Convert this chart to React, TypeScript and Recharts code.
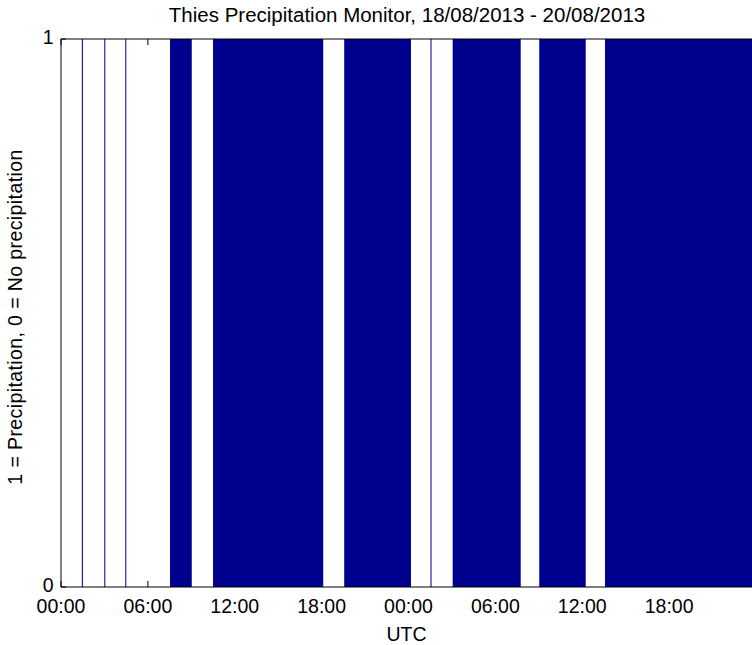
import { Area, AreaChart, Label, ReferenceLine, XAxis, YAxis } from "recharts";

// hours since 18/08/2013 00:00 UTC
const RAIN_START = [1.44, 2.99, 4.44, 7.53, 10.5, 19.56, 25.52, 27.05, 33.03, 37.57];
const RAIN_END = [1.51, 3.06, 4.51, 9.03, 18.11, 24.17, 25.59, 31.75, 36.24, 48];

const HOUR_TICKS = [0, 6, 12, 18, 24, 30, 36, 42];
const TICK_LABELS = ["00:00", "06:00", "12:00", "18:00", "00:00", "06:00", "12:00", "18:00"];

const FONT = "'Liberation Sans', Arial, sans-serif";
const NAVY = "#00008F";
const PLOT_H = 548;
const TOP_TICK = 6 / PLOT_H; // inward tick length on the top edge, in y units

const data: { t: number; rain: number }[] = [{ t: 0, rain: 0 }];
RAIN_START.forEach((s, i) => {
  data.push({ t: s, rain: 1 });
  data.push({ t: RAIN_END[i], rain: 0 });
});

const tickStyle = { fontSize: 19.5, fill: "#000", fontFamily: FONT };

export default function App() {
  return (
    <div style={{ position: "absolute", left: 0, top: 0, width: 752, height: 645, overflow: "hidden", background: "#fff" }}>
      <div
        style={{
          position: "absolute",
          left: 0,
          top: 5.3,
          width: 814,
          textAlign: "center",
          fontFamily: FONT,
          fontSize: 20.5,
          lineHeight: "20.5px",
          color: "#000",
          whiteSpace: "nowrap",
        }}
      >
        Thies Precipitation Monitor, 18/08/2013 - 20/08/2013
      </div>
      <AreaChart width={770} height={645} data={data} margin={{ top: 39, right: 14, bottom: 0, left: 0 }}>
        <XAxis
          dataKey="t"
          type="number"
          domain={[0, 48]}
          ticks={HOUR_TICKS}
          tickFormatter={(v) => TICK_LABELS[HOUR_TICKS.indexOf(v)]}
          height={58}
          axisLine={false}
          tickSize={-6}
          tickMargin={18.5}
          tickLine={{ stroke: "#000" }}
          tick={tickStyle}
          interval={0}
        >
          <Label
            content={({ viewBox }: any) => (
              <text
                x={viewBox.x + viewBox.width / 2 - 2}
                y={viewBox.y + 54}
                textAnchor="middle"
                style={{ fontSize: 19.5, fontFamily: FONT, fill: "#000" }}
              >
                UTC
              </text>
            )}
          />
        </XAxis>
        <YAxis
          type="number"
          domain={[0, 1]}
          ticks={[0, 1]}
          width={61}
          axisLine={{ stroke: "#000" }}
          tickSize={-5}
          tickMargin={12.5}
          tickLine={{ stroke: "#000" }}
          tick={{ ...tickStyle, dy: -1.5 }}
        >
          <Label
            content={({ viewBox }: any) => {
              const cx = viewBox.x + 22;
              const cy = viewBox.y + viewBox.height / 2 + 4;
              return (
                <text
                  x={cx}
                  y={cy}
                  transform={`rotate(-90 ${cx} ${cy})`}
                  textAnchor="middle"
                  style={{ fontSize: 19.5, fontFamily: FONT, fill: "#000", letterSpacing: 0.4 }}
                >
                  1 = Precipitation, 0 = No precipitation
                </text>
              );
            }}
          />
        </YAxis>
        {/* box ticks along the top edge, drawn under the bars */}
        {HOUR_TICKS.map((h) => (
          <ReferenceLine
            key={h}
            segment={[
              { x: h, y: 1 },
              { x: h, y: 1 - TOP_TICK },
            ]}
            stroke="#000"
            zIndex={300}
          />
        ))}
        <Area
          type="stepAfter"
          dataKey="rain"
          fill={NAVY}
          fillOpacity={1}
          stroke="none"
          dot={false}
          activeDot={false}
          isAnimationActive={false}
          zIndex={600}
        />
        <ReferenceLine y={0} stroke="#000" zIndex={700} />
        <ReferenceLine y={1} stroke="#000" zIndex={700} />
      </AreaChart>
    </div>
  );
}
